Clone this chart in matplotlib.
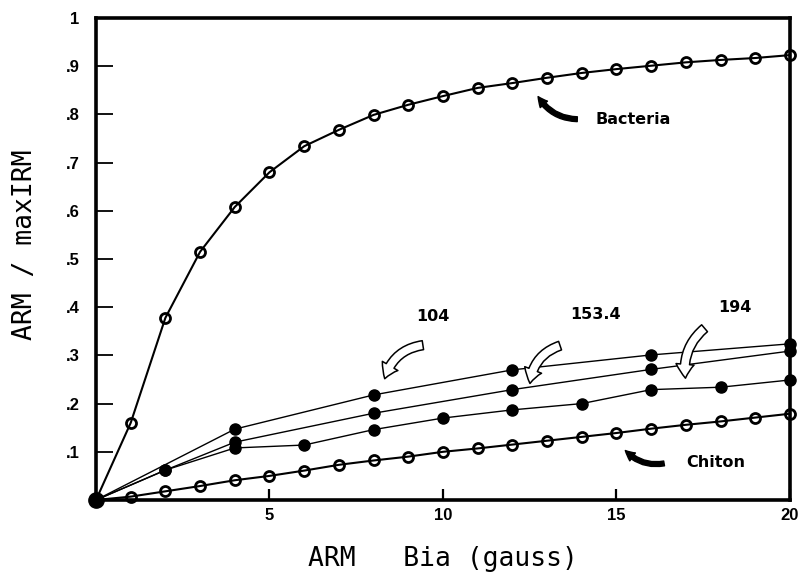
import numpy as np
import matplotlib.pyplot as plt

# ARM / maxIRM vs ARM bias field (gauss)
bact_x = list(range(0, 21))
bact_y = [0.0, 0.16, 0.378, 0.515, 0.608, 0.68, 0.734, 0.768, 0.799, 0.82,
          0.838, 0.855, 0.865, 0.876, 0.886, 0.894, 0.901, 0.908, 0.913, 0.917, 0.923]

chiton_x = list(range(0, 21))
chiton_y = [0.0, 0.007, 0.018, 0.029, 0.041, 0.05, 0.061, 0.073, 0.082, 0.09,
            0.1, 0.107, 0.115, 0.123, 0.131, 0.139, 0.148, 0.156, 0.163, 0.171, 0.179]

s1_x = [0, 4, 8, 12, 16, 20]
s1_y = [0.0, 0.147, 0.218, 0.27, 0.301, 0.324]

s2_x = [0, 2, 4, 8, 12, 16, 20]
s2_y = [0.0, 0.062, 0.12, 0.18, 0.229, 0.271, 0.309]

s3_x = [0, 2, 4, 6, 8, 10, 12, 14, 16, 18, 20]
s3_y = [0.0, 0.062, 0.108, 0.114, 0.146, 0.17, 0.187, 0.2, 0.229, 0.234, 0.249]

xticks = [5, 10, 15, 20]
yticks = [0.1, 0.2, 0.3, 0.4, 0.5, 0.6, 0.7, 0.8, 0.9, 1.0]
ylabels = [".1", ".2", ".3", ".4", ".5", ".6", ".7", ".8", ".9", "1"]

TICK = dict(family="Liberation Sans", fontweight="bold", fontsize=12)
NOTE = dict(family="DejaVu Sans", fontweight="bold", fontsize=11.5)
MONO = dict(family="DejaVu Sans Mono", fontsize=19)

fig = plt.figure(figsize=(8.04, 5.76), dpi=100)
ax = fig.add_axes([96 / 804, 1 - 500 / 576, 694 / 804, 482 / 576])

# filled-circle series (thin lines)
for xs, ys in [(s1_x, s1_y), (s2_x, s2_y), (s3_x, s3_y)]:
    ax.plot(xs, ys, color="k", lw=1.0, marker="o", ms=8, mfc="k", mec="k",
            clip_on=False, zorder=3)

# open-circle series
for xs, ys in [(bact_x, bact_y), (chiton_x, chiton_y)]:
    ax.plot(xs, ys, color="k", lw=1.5, marker="o", ms=7.2, mfc="none", mec="k",
            mew=2.0, clip_on=False, zorder=4)

ax.plot([0], [0], "o", color="k", ms=11, clip_on=False, zorder=5)

ax.set_xlim(0, 20)
ax.set_ylim(0, 1)
for s in ax.spines.values():
    s.set_linewidth(2.6)

ax.set_xticks(xticks)
ax.set_xticklabels([str(t) for t in xticks], **TICK)
ax.set_yticks(yticks)
ax.set_yticklabels(ylabels, **TICK)
ax.tick_params(axis="x", direction="in", length=8, width=1.6, pad=6)
ax.tick_params(axis="y", direction="in", length=12, width=1.3, pad=12)

ax.set_xlabel("ARM   Bia (gauss)", labelpad=16, **MONO)
ax.set_ylabel("ARM / maxIRM", **MONO)
ax.yaxis.set_label_coords(-0.084, 0.53)

# labels + arrows
ax.text(14.4, 0.79, "Bacteria", ha="left", va="center", **NOTE)
ax.annotate("", xy=(12.7, 0.842), xytext=(13.95, 0.79),
            arrowprops=dict(arrowstyle="simple,head_length=0.7,head_width=0.7,tail_width=0.35",
                            connectionstyle="arc3,rad=-0.3", fc="k", ec="k"))

ax.text(17.0, 0.077, "Chiton", ha="left", va="center", **NOTE)
ax.annotate("", xy=(15.2, 0.107), xytext=(16.45, 0.077),
            arrowprops=dict(arrowstyle="simple,head_length=0.7,head_width=0.7,tail_width=0.35",
                            connectionstyle="arc3,rad=-0.3", fc="k", ec="k"))

for lbl, tx, ty in [("104", 9.7, 0.381), ("153.4", 14.4, 0.384), ("194", 18.4, 0.40)]:
    ax.text(tx, ty, lbl, ha="center", va="center", **NOTE)

for tail, head, rad in [((9.5, 0.322), (8.3, 0.246), 0.35),
                        ((13.45, 0.322), (12.5, 0.236), 0.35),
                        ((17.6, 0.36), (17.0, 0.247), 0.3)]:
    ax.annotate("", xy=head, xytext=tail,
                arrowprops=dict(arrowstyle="simple,head_length=1.0,head_width=1.3,tail_width=0.65",
                                connectionstyle=f"arc3,rad={rad}", fc="white", ec="k", lw=1.1),
                zorder=6)

fig.savefig("out.png", dpi=100, facecolor="white")
